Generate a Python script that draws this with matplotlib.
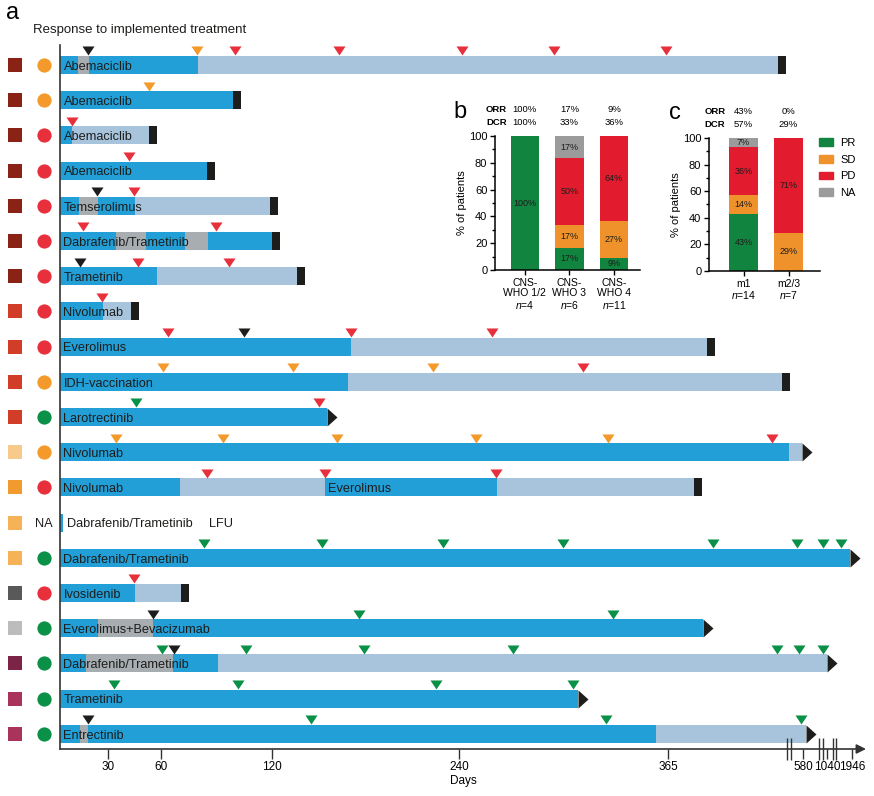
import numpy as np
import matplotlib.pyplot as plt
from matplotlib.path import Path
from matplotlib.markers import MarkerStyle
from matplotlib.patches import Patch

plt.rcParams['font.family'] = ['Liberation Sans', 'DejaVu Sans']
plt.rcParams['mathtext.fontset'] = 'custom'
plt.rcParams['mathtext.rm'] = 'Liberation Sans'
plt.rcParams['mathtext.it'] = 'Liberation Sans:italic'

# ---------------- panel a : treatment course per patient (days) ----------------
drugs = ['Abemaciclib', 'Abemaciclib', 'Abemaciclib', 'Abemaciclib', 'Temserolimus',
         'Dabrafenib/Trametinib', 'Trametinib', 'Nivolumab', 'Everolimus', 'IDH-vaccination',
         'Larotrectinib', 'Nivolumab', 'Nivolumab', 'Dabrafenib/Trametinib',
         'Dabrafenib/Trametinib', 'Ivosidenib', 'Everolimus+Bevacizumab',
         'Dabrafenib/Trametinib', 'Trametinib', 'Entrectinib']
entity = [1, 1, 1, 1, 1, 1, 1, 2, 2, 2, 2, 3, 4, 5, 5, 6, 7, 8, 9, 9]
best_response = ['SD', 'SD', 'PD', 'PD', 'PD', 'PD', 'PD', 'PD', 'PD', 'SD',
                 'PR', 'SD', 'PD', 'NA', 'PR', 'PD', 'PR', 'PR', 'PR', 'PR']

# T = on treatment, P = treatment paused, F = off treatment / follow-up
segments = [
    [(0, 11, 'T'), (11, 18, 'P'), (18, 80, 'T'), (80, 540, 'F')],
    [(0, 99, 'T')],
    [(0, 7.5, 'T'), (7.5, 53, 'F')],
    [(0, 85, 'T')],
    [(0, 12, 'T'), (12, 24, 'P'), (24, 45, 'T'), (45, 119, 'F')],
    [(0, 34.5, 'T'), (34.5, 51.5, 'P'), (51.5, 73, 'T'), (73, 85.5, 'P'), (85.5, 120, 'T')],
    [(0, 58, 'T'), (58, 136, 'F')],
    [(0, 27, 'T'), (27, 43, 'F')],
    [(0, 171, 'T'), (171, 427, 'F')],
    [(0, 169, 'T'), (169, 547, 'F')],
    [(0, 155, 'T')],
    [(0, 558, 'T'), (558, 578, 'F')],
    [(0, 70, 'T'), (70, 154, 'F'), (154, 263, 'T'), (263, 406, 'F')],
    [(0, 2, 'T')],
    [(0, 1873, 'T')],
    [(0, 45, 'T'), (45, 71, 'F')],
    [(0, 24, 'T'), (24, 55.5, 'P'), (55.5, 421, 'T')],
    [(0, 16, 'T'), (16, 66.5, 'P'), (66.5, 91, 'T'), (91, 1040, 'F')],
    [(0, 311, 'T')],
    [(0, 12.5, 'T'), (12.5, 17.5, 'P'), (17.5, 358, 'T'), (358, 637, 'F')],
]
# D = deceased (block), A = ongoing (arrow), L = lost to follow-up
outcome = ['D', 'D', 'D', 'D', 'D', 'D', 'D', 'D', 'D', 'D',
           'A', 'A', 'D', 'L', 'A', 'D', 'A', 'A', 'A', 'A']
# response assessments (day, result), X = black marker
assessments = [
    [(17.5, 'X'), (79.5, 'SD'), (100, 'PD'), (163, 'PD'), (242, 'PD'), (297, 'PD'), (364, 'PD')],
    [(53, 'SD')],
    [(7.5, 'PD')],
    [(42, 'PD')],
    [(23, 'X'), (44.7, 'PD')],
    [(14.4, 'PD'), (89.7, 'PD')],
    [(12.5, 'X'), (47, 'PD'), (97, 'PD')],
    [(26.3, 'PD')],
    [(64, 'PD'), (105, 'X'), (170.7, 'PD'), (260, 'PD')],
    [(61, 'SD'), (133.5, 'SD'), (223, 'SD'), (314, 'PD')],
    [(46, 'PR'), (150, 'PD')],
    [(34.5, 'SD'), (93.5, 'SD'), (162, 'SD'), (250, 'SD'), (329, 'SD'), (531, 'PD')],
    [(85, 'PD'), (154, 'PD'), (262, 'PD')],
    [],
    [(83, 'PR'), (152, 'PR'), (230, 'PR'), (302, 'PR'), (437, 'PR'), (570, 'PR'), (963, 'PR'), (1547, 'PR')],
    [(44.7, 'PD')],
    [(55.5, 'X'), (176, 'PR'), (332, 'PR')],
    [(60.5, 'PR'), (67, 'X'), (106, 'PR'), (179, 'PR'), (272, 'PR'), (539, 'PR'), (574, 'PR'), (963, 'PR')],
    [(33.4, 'PR'), (101.6, 'PR'), (225, 'PR'), (308, 'PR')],
    [(17.5, 'X'), (145, 'PR'), (328, 'PR'), (577, 'PR')],
]
extra_labels = [(12, 154, 'Everolimus'), (13, 84, 'LFU')]

tick_days = [30, 60, 120, 240, 365, 580, 1040, 1946]
break_days = [554, 561, 886, 963, 1257, 1366]

# stretched / broken day axis
day_anchor = [0, 30, 60, 120, 240, 365, 580, 1040, 1946, 2450]
pos_anchor = [0, 48, 101, 212, 399, 608, 743, 767, 792, 806]

# ---------------- panels b and c : best response ----------------
groups_b = ['CNS-\nWHO 1/2\n$\\it{n}$=4', 'CNS-\nWHO 3\n$\\it{n}$=6', 'CNS-\nWHO 4\n$\\it{n}$=11']
n_b = [4, 6, 11]
pr_b = [4, 1, 1]
sd_b = [0, 1, 3]
pd_b = [0, 3, 7]
na_b = [0, 1, 0]
orr_b = ['100%', '17%', '9%']
dcr_b = ['100%', '33%', '36%']

groups_c = ['m1\n$\\it{n}$=14', 'm2/3\n$\\it{n}$=7']
n_c = [14, 7]
pr_c = [6, 0]
sd_c = [2, 2]
pd_c = [5, 5]
na_c = [1, 0]
orr_c = ['43%', '0%']
dcr_c = ['57%', '29%']

seg_col = {'T': '#239fd8', 'P': '#a8adb1', 'F': '#a7c4dc'}
resp_col = {'PR': '#0a9147', 'SD': '#f39a2b', 'PD': '#e8303c', 'NA': '#9d9d9d', 'X': '#1d1d1b'}
entity_col = {1: '#8a2316', 2: '#d13d26', 3: '#f7c98b', 4: '#f19a2e', 5: '#f5b257',
              6: '#595959', 7: '#bcbcbc', 8: '#7b2447', 9: '#a9335b'}
stack_col = {'PR': '#11843f', 'SD': '#f0922b', 'PD': '#e31b2f', 'NA': '#9b9b9b'}
ink = '#1d1d1b'

W, H = 874, 796
fig = plt.figure(figsize=(W / 100, H / 100), dpi=100)

ax = fig.add_axes([60 / W, 1 - 749 / H, 806 / W, 704 / H])
ax.set_xscale('function', functions=(lambda d: np.interp(d, day_anchor, pos_anchor),
                                     lambda p: np.interp(p, pos_anchor, day_anchor)))
ax.set_xlim(0, 2450)
ax.set_ylim(19.432, -0.568)

bar_h = 0.51
cap = MarkerStyle(Path([(0, -1), (0.886, -1), (0.886, 1), (0, 1), (0, -1)]))
arrow = MarkerStyle(Path([(0, -0.9), (1, 0), (0, 0.9), (0, -0.9)]))
tri = MarkerStyle(Path([(-1, 1.5), (1, 1.5), (0, 0), (-1, 1.5)]))

for i in range(len(drugs)):
    for s, e, k in segments[i]:
        ax.barh(i, e - s, left=s, height=bar_h, color=seg_col[k], linewidth=0)
    end = segments[i][-1][1]
    if outcome[i] == 'D':
        ax.plot(end, i, marker=cap, ms=13, color=ink, mew=0, clip_on=False)
    elif outcome[i] == 'A':
        ax.plot(end, i, marker=arrow, ms=14.4, color=ink, mew=0, clip_on=False)
    for d, r in assessments[i]:
        ax.plot(d, i - 0.27, marker=tri, ms=13, color=resp_col[r], mew=0, clip_on=False)
    start = end if outcome[i] == 'L' else 0
    ax.annotate(drugs[i], (start, i), xytext=(2.5, -1.3), textcoords='offset points',
                va='center', ha='left', fontsize=9.2, color=ink)

for i, d, t in extra_labels:
    ax.annotate(t, (d, i), xytext=(2.5, -1.3), textcoords='offset points',
                va='center', ha='left', fontsize=9.2, color=ink)

for s in ['top', 'right', 'bottom']:
    ax.spines[s].set_visible(False)
ax.spines['left'].set_color('#333333')
ax.spines['left'].set_linewidth(1.2)
ax.set_yticks([])
ax.set_xticks(tick_days)
ax.set_xticklabels([str(t) for t in tick_days], fontsize=8.5)
ax.xaxis.set_minor_locator(plt.NullLocator())
ax.tick_params(axis='x', direction='out', length=7, width=1, color='#333333', pad=2)
ax.annotate('', xy=(1.0, 0), xycoords='axes fraction', xytext=(0, 0),
            arrowprops=dict(arrowstyle='-|>', color='#333333', lw=1.2, mutation_scale=14,
                            shrinkA=0, shrinkB=0))
ax.vlines(break_days, -0.015, 0.015, transform=ax.get_xaxis_transform(),
          color='#333333', lw=1, clip_on=False)
ax.set_xlabel('Days', fontsize=8.5, labelpad=1)

# left markers (entity square, best response circle)
axl = fig.add_axes([0, 1 - 749 / H, 60 / W, 704 / H], sharey=ax)
axl.set_xlim(0, 60)
axl.axis('off')
rows = np.arange(len(drugs))
axl.scatter(np.full(len(rows), 15), rows, marker='s', s=100,
            color=[entity_col[e] for e in entity], linewidths=0)
for i, r in enumerate(best_response):
    if r == 'NA':
        axl.annotate('NA', (44, i), xytext=(0, -1.3), textcoords='offset points',
                     ha='center', va='center', fontsize=9.2, color=ink)
    else:
        axl.scatter(44, i, marker='o', s=105, color=resp_col[r], linewidths=0)

fig.text(13 / W, 1 - 13 / H, 'a', fontsize=17, ha='center', va='center')
fig.text(33 / W, 1 - 30 / H, 'Response to implemented treatment', fontsize=9.5,
         ha='left', va='center', color=ink)


def stacked(axs, groups, n, parts, orr, dcr, xlim):
    x = np.arange(len(groups))
    bottom = np.zeros(len(groups))
    n = np.array(n, dtype=float)
    for cat, vals in zip(['PR', 'SD', 'PD', 'NA'], parts):
        pct = np.array(vals) / n * 100
        axs.bar(x, pct, 0.63, bottom=bottom, color=stack_col[cat], linewidth=0)
        for xi, b, p in zip(x, bottom, pct):
            if p > 0:
                axs.text(xi, b + p / 2, f'{p:.0f}%', ha='center', va='center',
                         fontsize=6.5, color=ink)
        bottom += pct
    axs.set_xlim(*xlim)
    axs.set_ylim(0, 100)
    axs.set_yticks(range(0, 101, 20))
    axs.set_yticks(range(10, 100, 20), minor=True)
    axs.set_xticks(x)
    axs.set_xticklabels(groups, fontsize=7.5, linespacing=1.05)
    axs.tick_params(axis='both', labelsize=8, length=3.5, width=1, pad=2)
    axs.tick_params(axis='x', labelsize=7.5)
    axs.tick_params(axis='y', which='minor', length=2, width=1)
    for s in ['top', 'right']:
        axs.spines[s].set_visible(False)
    for s in ['left', 'bottom']:
        axs.spines[s].set_linewidth(1.1)
    axs.set_ylabel('% of patients', fontsize=8, labelpad=1)
    tr = axs.get_xaxis_transform()
    axs.text(-0.64, 1.2, 'ORR', transform=tr, ha='center', va='center', fontsize=6.8,
             fontweight='bold')
    axs.text(-0.64, 1.1, 'DCR', transform=tr, ha='center', va='center', fontsize=6.8,
             fontweight='bold')
    for xi, o, d in zip(x, orr, dcr):
        axs.text(xi, 1.2, o, transform=tr, ha='center', va='center', fontsize=6.8)
        axs.text(xi, 1.1, d, transform=tr, ha='center', va='center', fontsize=6.8)


axb = fig.add_axes([495 / W, 1 - 270 / H, 145 / W, 134 / H])
stacked(axb, groups_b, n_b, [pr_b, sd_b, pd_b, na_b], orr_b, dcr_b, (-0.667, 2.58))
axc = fig.add_axes([709 / W, 1 - 271 / H, 111 / W, 133 / H])
stacked(axc, groups_c, n_c, [pr_c, sd_c, pd_c, na_c], orr_c, dcr_c, (-0.767, 1.7))

fig.text(460 / W, 1 - 112 / H, 'b', fontsize=17, ha='center', va='center')
fig.text(675 / W, 1 - 113 / H, 'c', fontsize=17, ha='center', va='center')

handles = [Patch(color=stack_col[k], label=k) for k in ['PR', 'SD', 'PD', 'NA']]
fig.legend(handles=handles, loc='upper left', bbox_to_anchor=(819 / W, 1 - 138 / H),
           frameon=False, fontsize=8, handlelength=1.3, handleheight=0.7,
           labelspacing=0.6, handletextpad=0.6, borderaxespad=0, borderpad=0)

fig.savefig('out.png', dpi=100)
